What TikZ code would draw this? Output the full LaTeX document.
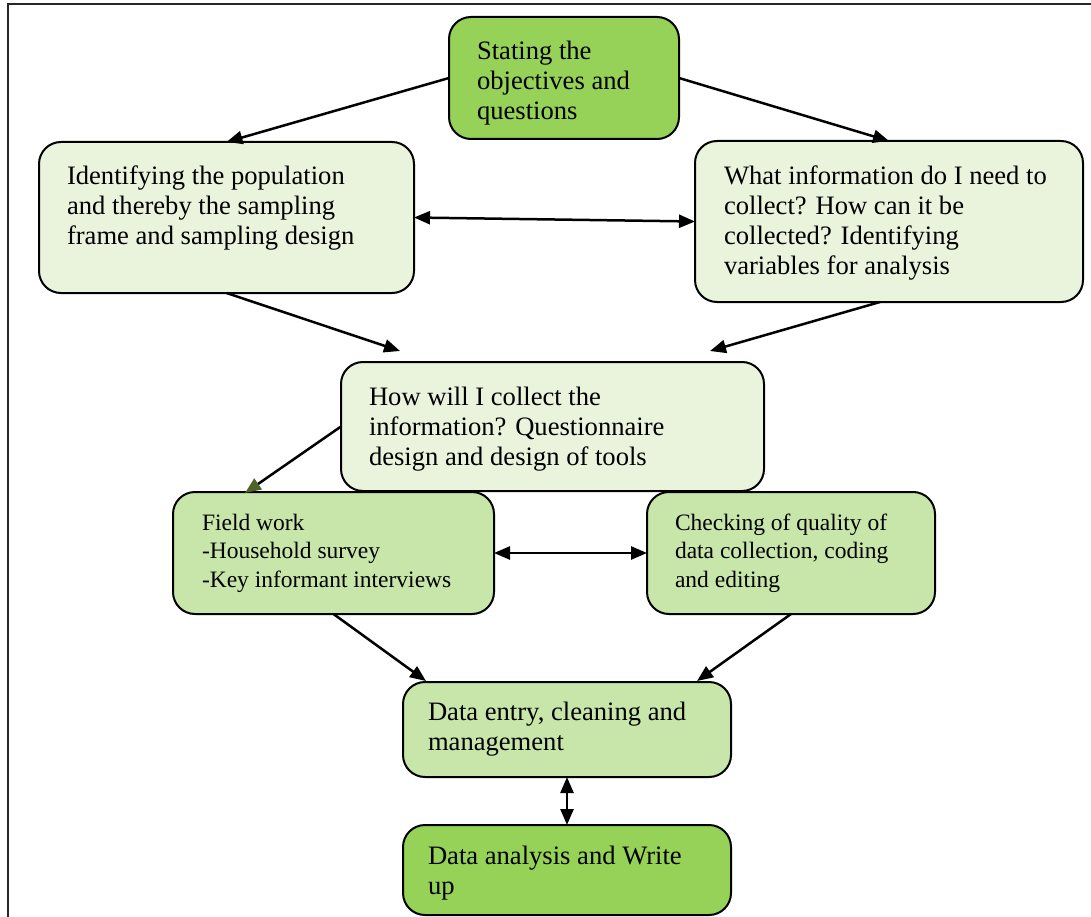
\documentclass[tikz,border=0pt]{standalone}
\usepackage{fontspec}
\setmainfont{Liberation Serif}
\usetikzlibrary{arrows.meta,calc}
\definecolor{gdark}{RGB}{150,210,88}
\definecolor{glight}{RGB}{234,244,221}
\definecolor{gmid}{RGB}{200,230,170}
\definecolor{tipgreen}{RGB}{79,98,40}
\tikzset{
  box/.style={draw=black, line width=2pt, rounded corners=22pt, inner sep=0pt, outer sep=0pt},
  txt/.style={anchor=base west, inner sep=0pt, outer sep=0pt},
  big/.style={font=\fontsize{26.6}{30}\selectfont},
  small/.style={font=\fontsize{23.5}{28.5}\selectfont},
  link/.style={line width=2.5pt, -{Triangle[length=16pt,width=13pt]}},
  both/.style={line width=2.5pt, {Triangle[length=16pt,width=13pt]}-{Triangle[length=16pt,width=13pt]}},
}
\newcommand{\lines}[1]{\parbox[t]{12cm}{#1}}
\begin{document}
\begin{tikzpicture}[x=1pt, y=-1pt]
\useasboundingbox (0,0) rectangle (1091,917);
% outer frame (left and top edges)
\draw[line width=2.5pt, black!85] (8,917) -- (8,4) -- (1091,4);

% boxes
\node[box, fill=gdark,  minimum width=230pt, minimum height=122pt] (top)      at (564,78)    {};
\node[box, fill=glight, minimum width=375pt, minimum height=151pt] (left)     at (226.5,217.5) {};
\node[box, fill=glight, minimum width=388pt, minimum height=161pt] (right)    at (889,221.5) {};
\node[box, fill=glight, minimum width=423pt, minimum height=129pt] (center)   at (552.5,426.5) {};
\node[box, fill=gmid,   minimum width=321pt, minimum height=122pt] (field)    at (333.5,553) {};
\node[box, fill=gmid,   minimum width=288pt, minimum height=122pt] (check)    at (791,553)   {};
\node[box, fill=gmid,   minimum width=328pt, minimum height=95pt]  (entry)    at (567,729.5) {};
\node[box, fill=gdark,  minimum width=328pt, minimum height=90pt]  (analysis) at (567,870)   {};

% texts
\node[txt, big]   (topT)   at (477,60)  {\lines{Stating the\\objectives and\\questions}};
\node[txt, big]   (leftT)  at (67,185)  {\lines{Identifying the population\\and thereby the sampling\\frame and sampling design}};
\node[txt, big]   (rightT) at (724,185) {\lines{What information do I need to\\collect? How can it be\\collected? Identifying\\variables for analysis}};
\node[txt, big]   (centT)  at (369,405) {\lines{How will I collect the\\information? Questionnaire\\design and design of tools}};
\node[txt, small] (fieldT) at (202,530) {\lines{Field work\\-Household survey\\-Key informant interviews}};
\node[txt, small] (checkT) at (675,530) {\lines{Checking of quality of\\data collection, coding\\and editing}};
\node[txt, big]   (entryT) at (428,720) {\lines{Data entry, cleaning and\\management}};
\node[txt, big]   (anaT)   at (428,864) {\lines{Data analysis and Write\\up}};

% free ends of connectors
\coordinate (c1) at (400,351);
\coordinate (c2) at (710,351);
\coordinate (c3) at (245,493);
\coordinate (c4) at (426,681);
\coordinate (c5) at (697,681);

% connectors
\draw[link] (top.west) -- (left.north);
\draw[link] (top.east) -- (right.north);
\draw[both] (left.east) -- (right.west);
\draw[link] (left.south) -- (c1);
\draw[link] ($(right.south)+(-9,0)$) -- (c2);
\draw[line width=2.5pt, -{Triangle[length=16pt,width=13pt,color=tipgreen]}] (center.west) -- (c3);
\draw[both] (field.east) -- (check.west);
\draw[link] (field.south) -- (c4);
\draw[link] (check.south) -- (c5);
\draw[both] (entry.south) -- (analysis.north);
\end{tikzpicture}
\end{document}
